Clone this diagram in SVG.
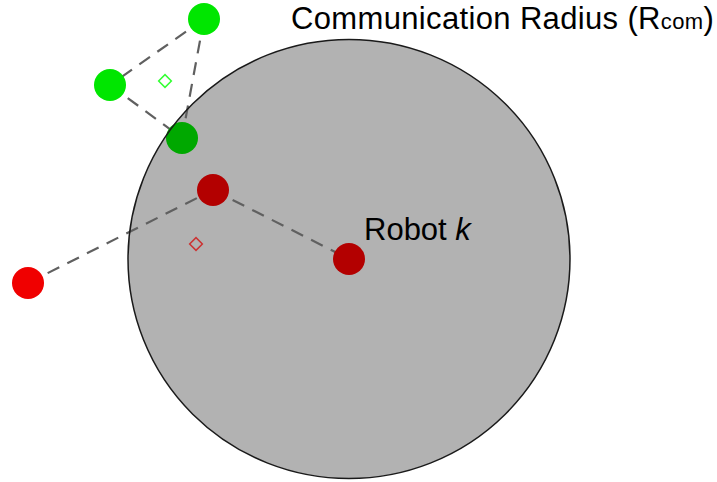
<svg xmlns="http://www.w3.org/2000/svg" width="717" height="482" viewBox="0 0 717 482">
<style>
.lbl{font-family:"Liberation Sans",Arial,sans-serif;fill:#000}
.link{stroke:#606060;stroke-width:2.2;stroke-dasharray:13 9;fill:none}
.g{fill:#00e600}
.dg{fill:#00a800}
.r{fill:#f00000}
.dr{fill:#b30000}
</style>
<rect width="717" height="482" fill="#fff"/>
<g id="range">
<ellipse cx="349" cy="259" rx="221" ry="219.5" fill="#b2b2b2"/>
</g>
<g id="connectors">
<line class="link" x1="204" y1="19" x2="110" y2="85"/>
<line class="link" x1="204" y1="19" x2="182" y2="138"/>
<line class="link" x1="110" y1="85" x2="182" y2="138"/>
<line class="link" x1="28" y1="283" x2="213" y2="190"/>
<line class="link" x1="213" y1="190" x2="349" y2="259"/>
</g>
<g id="green-centroid"><rect x="160.5" y="76.5" width="9" height="9" transform="rotate(45 165 81)" fill="none" stroke="#33ff33" stroke-width="1.5"/></g>
<g id="red-centroid"><rect x="191.5" y="239.5" width="9" height="9" transform="rotate(45 196 244)" fill="none" stroke="#cc3333" stroke-width="1.5"/></g>
<g id="green-top"><circle class="g" cx="204" cy="19" r="16"/></g>
<g id="green-left"><circle class="g" cx="110" cy="85" r="16"/></g>
<g id="green-dark"><circle class="dg" cx="182" cy="138" r="16"/></g>
<g id="red-left"><circle class="r" cx="28" cy="283" r="16"/></g>
<g id="red-dark"><circle class="dr" cx="213" cy="190" r="16"/></g>
<g id="robot-k"><circle class="dr" cx="349" cy="259" r="16"/>
<text class="lbl" x="364" y="240" font-size="31">Robot <tspan font-style="italic">k</tspan></text></g>
<g id="range-outline"><ellipse cx="349" cy="259" rx="221" ry="219.5" fill="none" stroke="#1a1a1a" stroke-width="1.5"/></g>
<g id="title"><text class="lbl" x="291" y="29" font-size="31" letter-spacing="0.35">Communication Radius (R<tspan font-size="22">com</tspan>)</text></g>
</svg>
